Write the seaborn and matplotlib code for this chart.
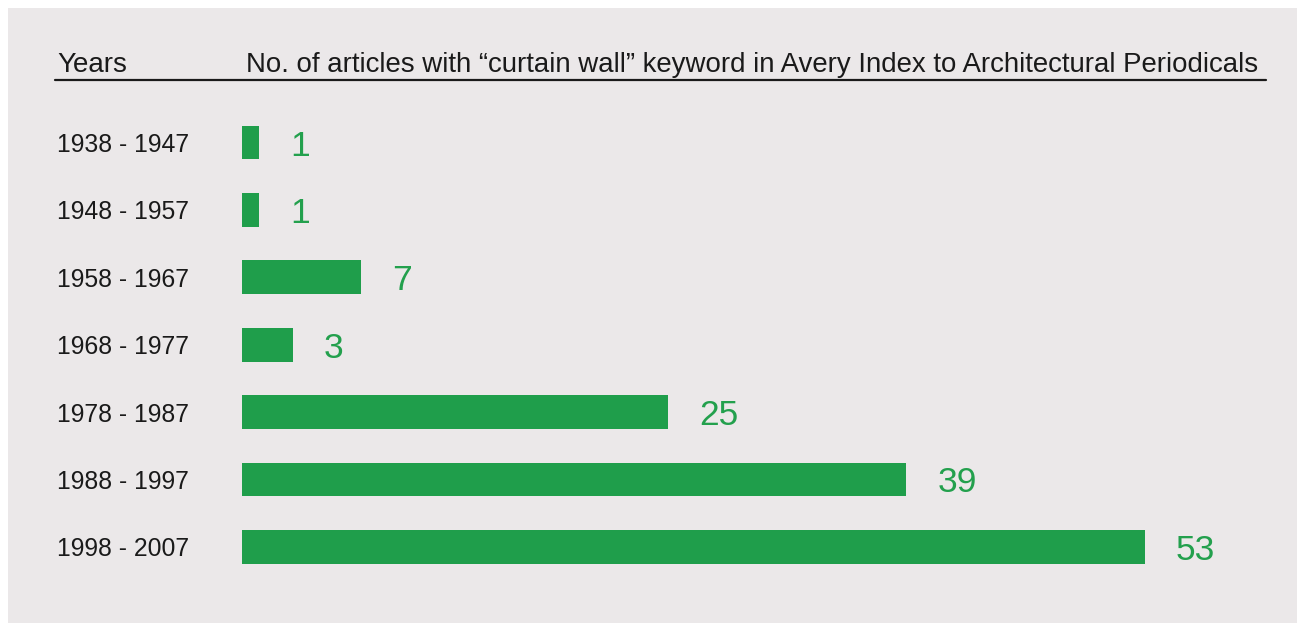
import matplotlib
matplotlib.use("Agg")
import matplotlib.pyplot as plt
from matplotlib.patches import Rectangle
from matplotlib.lines import Line2D
import seaborn as sns
import pandas as pd

years = ["1938 - 1947", "1948 - 1957", "1958 - 1967", "1968 - 1977",
         "1978 - 1987", "1988 - 1997", "1998 - 2007"]
articles = [1, 1, 7, 3, 25, 39, 53]
header_left = "Years"
header_right = "No. of articles with \u201ccurtain wall\u201d keyword in Avery Index to Architectural Periodicals"

df = pd.DataFrame({"years": years, "articles": articles})

sns.set_theme(style="white")
FONT = ["Liberation Sans", "DejaVu Sans"]
plt.rcParams["font.family"] = FONT

BG = "#ebe8e9"
GREEN = "#1f9e4b"
TXTGREEN = "#23a04d"

W, H = 1297, 623
fig = plt.figure(figsize=(W / 100, H / 100), dpi=100, facecolor="white")
fig.patches.append(Rectangle((8 / W, 0), 1 - 8 / W, (H - 8) / H,
                             transform=fig.transFigure, facecolor=BG,
                             edgecolor="none", zorder=-10))

# axes geometry in pixels
left_px = 242
unit = 903 / 53.0
xmax = 60
ax_w = unit * xmax
row = 67.4
top_px = 142.5 - row / 2
ax_h = row * 7
ax = fig.add_axes([left_px / W, 1 - (top_px + ax_h) / H, ax_w / W, ax_h / H])
ax.set_facecolor("none")

sns.barplot(data=df, x="articles", y="years", orient="h", color=GREEN,
            saturation=1, width=0.5, linewidth=0, edgecolor="none", ax=ax)
ax.set_xlim(0, xmax)
ax.set_ylim(6.5, -0.5)
ax.set_xlabel("")
ax.set_ylabel("")
ax.set_xticks([])
for s in ax.spines.values():
    s.set_visible(False)

ax.tick_params(axis="y", length=0, pad=185 * 72 / 100, labelsize=17.8,
               labelcolor="#1a1a1a")
for lab in ax.get_yticklabels():
    lab.set_horizontalalignment("left")

for i, v in enumerate(articles):
    ax.annotate(str(v), xy=(v, i), xytext=(31 * 72 / 100, 0),
                textcoords="offset points", ha="left", va="center_baseline",
                color=TXTGREEN, fontsize=25.5)

fig.text(57 / W, 1 - 72 / H, header_left, fontsize=20, color="#1a1a1a",
         ha="left", va="baseline")
fig.text(246 / W, 1 - 72 / H, header_right, fontsize=19.9, color="#1a1a1a",
         ha="left", va="baseline")
fig.add_artist(Line2D([55 / W, 1266 / W], [1 - 80 / H, 1 - 80 / H],
                      transform=fig.transFigure, color="#1a1a1a", lw=1.6))

fig.savefig("out.png", dpi=100, facecolor="white")
